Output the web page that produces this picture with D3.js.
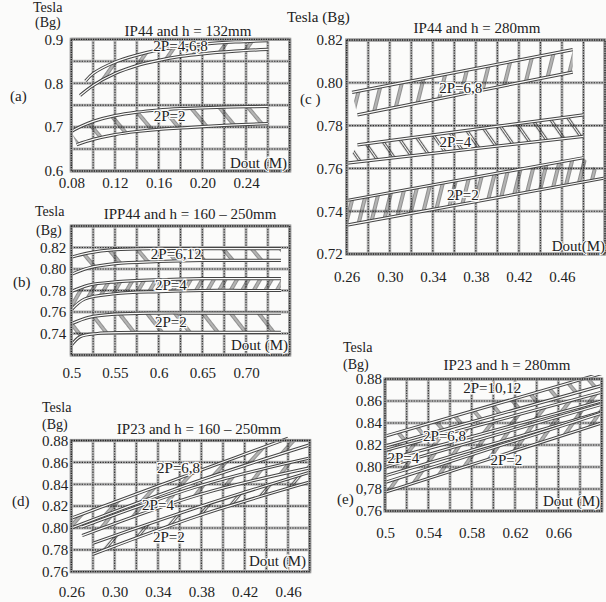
<!DOCTYPE html>
<html>
<head>
<meta charset="utf-8">
<script src="https://cdn.jsdelivr.net/npm/d3@7"></script>
<style>
  body { margin: 0; background: #fbfbfa; }
  svg { display: block; }
</style>
</head>
<body>
<svg id="chart" width="606" height="602"></svg>
<script>
// ---- data (Dout in m, Bg in tesla) ----

// (a) IP44, h = 132mm
let a_P468_upper = [[0.093,0.805],[0.10,0.822],[0.12,0.848],[0.14,0.864],[0.16,0.876],[0.18,0.884],[0.20,0.889],[0.23,0.894],[0.26,0.897]]
let a_P468_lower = [[0.088,0.772],[0.10,0.795],[0.12,0.822],[0.14,0.840],[0.16,0.852],[0.18,0.861],[0.20,0.867],[0.23,0.873],[0.26,0.877]]
let a_P2_upper = [[0.08,0.690],[0.09,0.703],[0.10,0.713],[0.12,0.726],[0.14,0.734],[0.16,0.739],[0.18,0.742],[0.20,0.744],[0.23,0.746],[0.26,0.747]]
let a_P2_lower = [[0.085,0.660],[0.10,0.672],[0.12,0.683],[0.14,0.690],[0.16,0.695],[0.18,0.698],[0.20,0.701],[0.23,0.705],[0.26,0.708]]
let a_xTicks = [0.08, 0.12, 0.16, 0.20, 0.24]
let a_xLabels = ["0.08", "0.12", "0.16", "0.20", "0.24"]
let a_yTicks = [0.6, 0.7, 0.8, 0.9]
let a_yLabels = ["0.6", "0.7", "0.8", "0.9"]

// (b) IPP44, h = 160 - 250mm
let b_P612_upper = [[0.50,0.811],[0.52,0.815],[0.55,0.818],[0.60,0.819],[0.65,0.819],[0.70,0.819],[0.74,0.819]]
let b_P612_lower = [[0.50,0.795],[0.52,0.801],[0.55,0.805],[0.60,0.807],[0.65,0.808],[0.70,0.808],[0.74,0.808]]
let b_P4_upper = [[0.50,0.779],[0.52,0.785],[0.55,0.788],[0.60,0.790],[0.65,0.791],[0.70,0.791],[0.74,0.791]]
let b_P4_lower = [[0.50,0.762],[0.515,0.772],[0.55,0.777],[0.60,0.779],[0.65,0.780],[0.70,0.780],[0.74,0.780]]
let b_P2_upper = [[0.50,0.749],[0.52,0.755],[0.55,0.758],[0.60,0.759],[0.65,0.759],[0.70,0.759],[0.74,0.759]]
let b_P2_lower = [[0.50,0.729],[0.51,0.737],[0.53,0.740],[0.60,0.741],[0.65,0.741],[0.74,0.741]]
let b_xTicks = [0.5, 0.55, 0.6, 0.65, 0.70]
let b_xLabels = ["0.5", "0.55", "0.6", "0.65", "0.70"]
let b_yTicks = [0.74, 0.76, 0.78, 0.80, 0.82]
let b_yLabels = ["0.74", "0.76", "0.78", "0.80", "0.82"]

// (c) IP44, h = 280mm
let c_P68_upper = [[0.265,0.7955],[0.47,0.8155]]
let c_P68_lower = [[0.27,0.785],[0.47,0.805]]
let c_P4_upper = [[0.27,0.771],[0.48,0.785]]
let c_P4_lower = [[0.26,0.7625],[0.48,0.775]]
let c_P2_upper = [[0.26,0.745],[0.48,0.765]]
let c_P2_lower = [[0.26,0.7335],[0.50,0.7555]]
let c_xTicks = [0.26, 0.30, 0.34, 0.38, 0.42, 0.46]
let c_xLabels = ["0.26", "0.30", "0.34", "0.38", "0.42", "0.46"]
let c_yTicks = [0.72, 0.74, 0.76, 0.78, 0.80, 0.82]
let c_yLabels = ["0.72", "0.74", "0.76", "0.78", "0.80", "0.82"]

// (d) IP23, h = 160 - 250mm
let d_P68_upper = [[0.26,0.809],[0.38,0.853],[0.46,0.882]]
let d_P68_lower = [[0.26,0.800],[0.38,0.844],[0.48,0.876]]
let d_P4_upper = [[0.27,0.801],[0.38,0.839],[0.48,0.864]]
let d_P4_lower = [[0.27,0.793],[0.38,0.831],[0.48,0.855]]
let d_P2_upper = [[0.28,0.786],[0.38,0.820],[0.48,0.851]]
let d_P2_lower = [[0.28,0.776],[0.38,0.812],[0.48,0.842]]
let d_xTicks = [0.26, 0.30, 0.34, 0.38, 0.42, 0.46]
let d_xLabels = ["0.26", "0.30", "0.34", "0.38", "0.42", "0.46"]
let d_yTicks = [0.76, 0.78, 0.80, 0.82, 0.84, 0.86, 0.88]
let d_yLabels = ["0.76", "0.78", "0.80", "0.82", "0.84", "0.86", "0.88"]

// (e) IP23, h = 280mm
let e_P1012_upper = [[0.50,0.828],[0.70,0.885]]
let e_P1012_lower = [[0.50,0.819],[0.70,0.874]]
let e_P68_upper = [[0.50,0.815],[0.70,0.868]]
let e_P68_lower = [[0.50,0.806],[0.70,0.860]]
let e_P4_upper = [[0.50,0.800],[0.70,0.857]]
let e_P4_lower = [[0.50,0.792],[0.70,0.850]]
let e_P2_upper = [[0.50,0.786],[0.70,0.849]]
let e_P2_lower = [[0.50,0.777],[0.70,0.840]]
let e_xTicks = [0.5, 0.54, 0.58, 0.62, 0.66]
let e_xLabels = ["0.5", "0.54", "0.58", "0.62", "0.66"]
let e_yTicks = [0.76, 0.78, 0.80, 0.82, 0.84, 0.86, 0.88]
let e_yLabels = ["0.76", "0,78", "0.80", "0.82", "0.84", "0.86", "0.88"]

// ---- drawing ----
let paper = "#fbfbfa"
let ink = "#222"
let serif = "'Liberation Serif', 'Times New Roman', Times, serif"

let svg = d3.select("#chart")
svg.append("rect").attr("width", 606).attr("height", 602).attr("fill", paper)
let defs = svg.append("defs")

// hatch patterns: each rung is a pair of thin lines, tile is rotated
function hatch(id, spacing, angle) {
    let p = defs.append("pattern")
        .attr("id", id)
        .attr("patternUnits", "userSpaceOnUse")
        .attr("width", spacing)
        .attr("height", 10)
        .attr("patternTransform", `rotate(${angle})`)
    ;[-1.1, 1.1].forEach(function (off) {
        p.append("line")
            .attr("x1", spacing / 2 + off).attr("x2", spacing / 2 + off)
            .attr("y1", -1).attr("y2", 11)
            .attr("stroke", "#333").attr("stroke-width", 0.9)
    })
}
hatch("h_a1", 20, 35)
hatch("h_a2", 22, -40)
hatch("h_b1", 22, -40)
hatch("h_b2", 10, 30)
hatch("h_b3", 22, -38)
hatch("h_c1", 20, 14)
hatch("h_c2", 15, -35)
hatch("h_c3", 12, 14)
hatch("h_d1", 18, 42)
hatch("h_d2", 18, 38)
hatch("h_d3", 17, 40)
hatch("h_e1", 18, -40)
hatch("h_e2", 16, 38)
hatch("h_e3", 16, 35)
hatch("h_e4", 16, 35)

let panels = [
    { id: "a", xd: [0.08, 0.28], xr: [71.3, 289.7], yd: [0.6, 0.9], yr: [171, 39.3], xs: 0.02, ys: 0.05,
      xt: a_xTicks, xl: a_xLabels, yt: a_yTicks, yl: a_yLabels, xpad: 6, ypad: 8,
      bands: [[a_P468_upper, a_P468_lower, "h_a1"], [a_P2_upper, a_P2_lower, "h_a2"]],
      notes: [["2P=4,6,8", 0.18, 0.873], ["2P=2", 0.17, 0.714]] },
    { id: "b", xd: [0.5, 0.75], xr: [71.3, 289.7], yd: [0.72, 0.84], yr: [355, 226], xs: 0.025, ys: 0.02,
      xt: b_xTicks, xl: b_xLabels, yt: b_yTicks, yl: b_yLabels, xpad: 12, ypad: 5,
      bands: [[b_P612_upper, b_P612_lower, "h_b1"], [b_P4_upper, b_P4_lower, "h_b2"], [b_P2_upper, b_P2_lower, "h_b3"]],
      notes: [["2P=6,12", 0.62, 0.8093], ["2P=4", 0.614, 0.7805], ["2P=2", 0.614, 0.746]] },
    { id: "c", xd: [0.26, 0.50], xr: [346.7, 605], yd: [0.72, 0.82], yr: [254, 40], xs: 0.02, ys: 0.02,
      xt: c_xTicks, xl: c_xLabels, yt: c_yTicks, yl: c_yLabels, xpad: 17, ypad: 4,
      bands: [[c_P68_upper, c_P68_lower, "h_c1"], [c_P4_upper, c_P4_lower, "h_c2"], [c_P2_upper, c_P2_lower, "h_c3"]],
      notes: [["2P=6,8", 0.366, 0.7952], ["2P=4", 0.361, 0.77], ["2P=2", 0.368, 0.7452]] },
    { id: "d", xd: [0.26, 0.48], xr: [71.3, 309.7], yd: [0.76, 0.88], yr: [571.7, 440.5], xs: 0.02, ys: 0.02,
      xt: d_xTicks, xl: d_xLabels, yt: d_yTicks, yl: d_yLabels, xpad: 15, ypad: 3,
      bands: [[d_P68_upper, d_P68_lower, "h_d1"], [d_P4_upper, d_P4_lower, "h_d2"], [d_P2_upper, d_P2_lower, "h_d3"]],
      notes: [["2P=6,8", 0.359, 0.8503], ["2P=4", 0.34, 0.8164], ["2P=2", 0.35, 0.7871]] },
    { id: "e", xd: [0.5, 0.70], xr: [385, 601.7], yd: [0.76, 0.88], yr: [511, 379], xs: 0.02, ys: 0.02,
      xt: e_xTicks, xl: e_xLabels, yt: e_yTicks, yl: e_yLabels, xpad: 16, ypad: 3,
      bands: [[e_P1012_upper, e_P1012_lower, "h_e1"], [e_P68_upper, e_P68_lower, "h_e2"], [e_P4_upper, e_P4_lower, "h_e3"], [e_P2_upper, e_P2_lower, "h_e4"]],
      notes: [["2P=10,12", 0.599, 0.8673], ["2P=6,8", 0.555, 0.8236], ["2P=4", 0.517, 0.8036], ["2P=2", 0.612, 0.8018]] }
]

panels.forEach(function (p) {
    let x = d3.scaleLinear().domain(p.xd).range(p.xr)
    let y = d3.scaleLinear().domain(p.yd).range(p.yr)
    let g = svg.append("g").attr("class", "panel-" + p.id)

    let gx = d3.range(p.xd[0], p.xd[1] + p.xs / 2, p.xs)
    let gy = d3.range(p.yd[0], p.yd[1] + p.ys / 2, p.ys)

    // grid: grey underline + dotted dark line, like the scan
    let grid = g.append("g").attr("class", "grid")
    ;[["#b4b4b4", 3, null], ["#2e2e2e", 1.1, "1.3,1.3"]].forEach(function (s) {
        grid.append("g").selectAll("line").data(gx).join("line")
            .attr("x1", d => x(d)).attr("x2", d => x(d))
            .attr("y1", p.yr[0]).attr("y2", p.yr[1])
            .attr("stroke", s[0]).attr("stroke-width", s[1]).attr("stroke-dasharray", s[2])
        grid.append("g").selectAll("line").data(gy).join("line")
            .attr("x1", p.xr[0]).attr("x2", p.xr[1])
            .attr("y1", d => y(d)).attr("y2", d => y(d))
            .attr("stroke", s[0]).attr("stroke-width", s[1]).attr("stroke-dasharray", s[2])
    })

    // clip the bands to the frame (a hair outside)
    g.append("clipPath").attr("id", "clip-" + p.id)
        .append("rect")
        .attr("x", p.xr[0] - 3).attr("y", p.yr[1] - 4)
        .attr("width", p.xr[1] - p.xr[0] + 6).attr("height", p.yr[0] - p.yr[1] + 8)

    let bandsG = g.append("g").attr("clip-path", `url(#clip-${p.id})`)
    let curve = d3.line()
        .x(d => x(d[0]))
        .y(d => y(d[1]))
        .curve(d3.curveCatmullRom.alpha(0.5))

    p.bands.forEach(function (b) {
        let up = b[0], lo = b[1]
        let outline = curve(up) + "L" + curve(lo.slice().reverse()).slice(1) + "Z"
        bandsG.append("path")
            .attr("d", outline)
            .attr("fill", `url(#${b[2]})`)
        ;[up, lo].forEach(function (edge) {
            bandsG.append("path").attr("d", curve(edge))
                .attr("fill", "none").attr("stroke", "#444").attr("stroke-width", 3.2)
            bandsG.append("path").attr("d", curve(edge))
                .attr("fill", "none").attr("stroke", paper).attr("stroke-width", 1.2)
        })
    })

    // series labels
    g.append("g").selectAll("text").data(p.notes).join("text")
        .attr("x", d => x(d[1]))
        .attr("y", d => y(d[2]))
        .attr("text-anchor", "middle")
        .attr("font-family", serif)
        .attr("font-size", 15)
        .attr("fill", ink)
        .attr("stroke", paper).attr("stroke-width", 2.5).attr("paint-order", "stroke")
        .text(d => d[0])

    // frame
    let fr = { x: p.xr[0], y: p.yr[1], w: p.xr[1] - p.xr[0], h: p.yr[0] - p.yr[1] }
    g.append("rect").attr("x", fr.x).attr("y", fr.y).attr("width", fr.w).attr("height", fr.h)
        .attr("fill", "none").attr("stroke", "#999").attr("stroke-width", 3.2)
    g.append("rect").attr("x", fr.x).attr("y", fr.y).attr("width", fr.w).attr("height", fr.h)
        .attr("fill", "none").attr("stroke", "#222").attr("stroke-width", 1.3).attr("stroke-dasharray", "1.3,1.1")

    // axes (labels only)
    g.append("g")
        .attr("transform", `translate(0,${p.yr[0]})`)
        .call(d3.axisBottom(x).tickValues(p.xt).tickSize(0).tickPadding(p.xpad)
            .tickFormat((d, i) => p.xl[i]))
        .attr("font-family", serif).attr("font-size", 15)
        .call(s => s.select(".domain").remove())
        .selectAll("text").attr("fill", ink)

    g.append("g")
        .attr("transform", `translate(${p.xr[0]},0)`)
        .call(d3.axisLeft(y).tickValues(p.yt).tickSize(0).tickPadding(p.ypad)
            .tickFormat((d, i) => p.yl[i]))
        .attr("font-family", serif).attr("font-size", 15)
        .call(s => s.select(".domain").remove())
        .selectAll("text").attr("fill", ink)
})

// titles, unit labels, panel letters  [text, x, baseline, anchor, size]
let words = [
    ["Tesla", 33, 12, "start", 14], ["(Bg)", 35, 27, "start", 14], ["IP44 and h = 132mm", 188, 36, "middle", 15],
    ["(a)", 10, 101, "start", 15], ["Dout (M)", 287, 168, "end", 15],

    ["Tesla (Bg)", 287, 22, "start", 15], ["IP44 and h = 280mm", 477, 33, "middle", 15],
    ["(c )", 300, 104, "start", 15], ["Dout(M)", 605, 251, "end", 15],

    ["Tesla", 35, 216, "start", 14], ["(Bg)", 36, 235, "start", 14], ["IPP44 and h = 160 \u2013 250mm", 190, 219, "middle", 15],
    ["(b)", 13, 287, "start", 15], ["Dout (M)", 288, 350, "end", 15],

    ["Tesla", 42, 412, "start", 14], ["(Bg)", 42, 429, "start", 14], ["IP23 and h = 160 \u2013 250mm", 199, 434, "middle", 15],
    ["(d)", 12, 506, "start", 15], ["Dout (M)", 306, 566, "end", 15],

    ["Tesla", 343, 352, "start", 14], ["(Bg)", 343, 369, "start", 14], ["IP23 and h = 280mm", 507, 370, "middle", 15],
    ["(e)", 337, 504, "start", 15], ["Dout (M)", 600, 506, "end", 15]
]

svg.append("g").selectAll("text").data(words).join("text")
    .attr("x", d => d[1])
    .attr("y", d => d[2])
    .attr("text-anchor", d => d[3])
    .attr("font-family", serif)
    .attr("font-size", d => d[4])
    .attr("fill", ink)
    .attr("stroke", paper).attr("stroke-width", 2).attr("paint-order", "stroke")
    .text(d => d[0])
</script>
</body>
</html>
